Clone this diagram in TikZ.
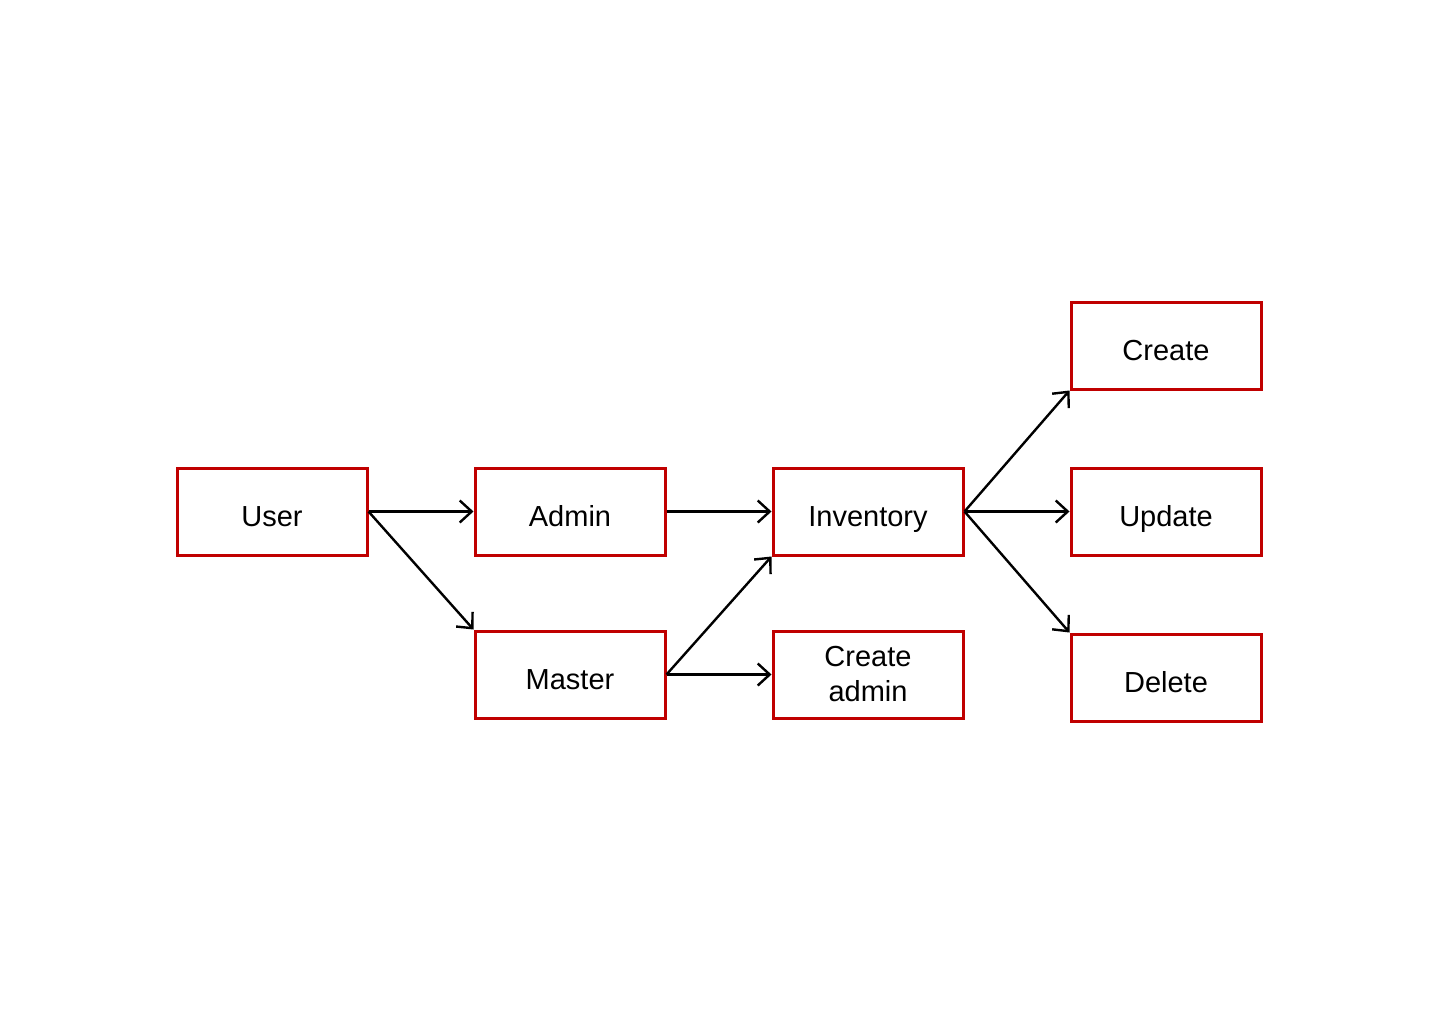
\documentclass[tikz,border=0pt]{standalone}
\usepackage{fontspec}
\setmainfont{Liberation Sans}
\usetikzlibrary{arrows.meta}
\definecolor{boxred}{HTML}{C00000}
\begin{document}
\begin{tikzpicture}[x=0.5pt,y=-0.5pt,
  box/.style={draw=boxred, line width=1.5pt, minimum width=95pt, minimum height=43.5pt,
    inner sep=0pt, align=center, font=\fontsize{14.5pt}{17.5pt}\selectfont},
  oneline/.style={box, text height=15pt, text depth=0pt},
  link/.style={draw=black, line width=1.2pt, -{Straight Barb[length=6pt,width=11pt,line width=1.2pt]}}]
  \useasboundingbox (0,0) rectangle (1440,1024);
  \node[oneline] (user)   at (272,511.5) {User};
  \node[oneline] (admin)  at (570,511.5) {Admin};
  \node[oneline] (inv)    at (868,511.5) {Inventory};
  \node[oneline] (master) at (570,674.5) {Master};
  \node[box]     (cadmin) at (868,674.5) {Create\\admin};
  \node[oneline] (create) at (1166,345.5) {Create};
  \node[oneline] (update) at (1166,511.5) {Update};
  \node[oneline] (delete) at (1166,677.5) {Delete};

  \draw[link] (user.east) -- (admin.west);
  \draw[link] (user.east) -- (master.north west);
  \draw[link] (admin.east) -- (inv.west);
  \draw[link] (master.east) -- (inv.south west);
  \draw[link] (master.east) -- (cadmin.west);
  \draw[link] (inv.east) -- (create.south west);
  \draw[link] (inv.east) -- (update.west);
  \draw[link] (inv.east) -- (delete.north west);
\end{tikzpicture}
\end{document}
